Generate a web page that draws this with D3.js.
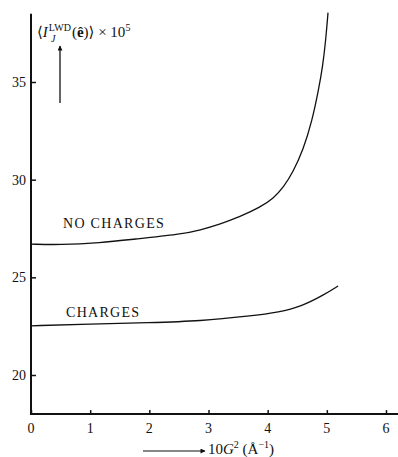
<!DOCTYPE html>
<html>
<head>
<meta charset="utf-8">
<script src="https://cdn.jsdelivr.net/npm/d3@7"></script>
<style>
  body { margin: 0; background: #fff; }
  text { font-family: "Liberation Serif", "DejaVu Serif", serif; fill: #111; }
</style>
</head>
<body>
<script>
// values
const noChargesX = [0, 0.5, 1.17, 1.73, 2.53, 2.86, 3.2, 3.53, 3.87, 4.1, 4.27, 4.43, 4.6, 4.75, 4.86, 4.93, 4.98, 5.02];
const noChargesY = [26.7, 26.66, 26.77, 26.95, 27.2, 27.42, 27.73, 28.1, 28.58, 29.05, 29.62, 30.4, 31.52, 33.0, 34.6, 35.8, 37.1, 38.55];
const chargesX = [0, 1, 2, 2.86, 3.71, 4.2, 4.56, 4.95, 5.19];
const chargesY = [22.52, 22.6, 22.68, 22.76, 23.02, 23.22, 23.5, 24.1, 24.56];
const xTicks = [0, 1, 2, 3, 4, 5, 6];
const yTicks = [20, 25, 30, 35];

const w = 398, h = 457;

const x = d3.scaleLinear().domain([0, 6]).range([31, 386]);
const y = d3.scaleLinear().domain([20, 35]).range([375, 82]);

const svg = d3.select("body").append("svg")
    .attr("width", w)
    .attr("height", h);

// axes lines
const x0 = x(0), yBase = y(18);
svg.append("line")
    .attr("x1", x0).attr("x2", w).attr("y1", yBase).attr("y2", yBase)
    .attr("stroke", "#111").attr("stroke-width", 2);
svg.append("line")
    .attr("x1", x0).attr("x2", x0).attr("y1", y(38.5)).attr("y2", yBase + 1)
    .attr("stroke", "#111").attr("stroke-width", 2);

// x ticks (pointing up)
const xAxis = d3.axisTop(x).tickValues(xTicks).tickSize(4).tickFormat("");
svg.append("g")
    .attr("transform", "translate(0," + yBase + ")")
    .call(xAxis)
    .call(g => g.select(".domain").remove())
    .call(g => g.selectAll("line").attr("stroke", "#111").attr("stroke-width", 1.5));
svg.append("g").selectAll("text")
    .data(xTicks).enter().append("text")
    .attr("x", d => x(d)).attr("y", yBase + 19)
    .attr("text-anchor", "middle")
    .attr("font-size", 14)
    .text(d => d);

// y ticks (pointing right)
const yAxis = d3.axisRight(y).tickValues(yTicks).tickSize(5).tickFormat("");
svg.append("g")
    .attr("transform", "translate(" + x0 + ",0)")
    .call(yAxis)
    .call(g => g.select(".domain").remove())
    .call(g => g.selectAll("line").attr("stroke", "#111").attr("stroke-width", 1.5));
svg.append("g").selectAll("text")
    .data(yTicks).enter().append("text")
    .attr("x", 26).attr("y", d => y(d) + 5)
    .attr("text-anchor", "end")
    .attr("font-size", 14)
    .text(d => d);

// curves
const line = d3.line().x(d => x(d[0])).y(d => y(d[1])).curve(d3.curveBasis);
svg.append("path")
    .datum(d3.zip(noChargesX, noChargesY))
    .attr("d", line)
    .attr("fill", "none").attr("stroke", "#111").attr("stroke-width", 1.3);
svg.append("path")
    .datum(d3.zip(chargesX, chargesY))
    .attr("d", line)
    .attr("fill", "none").attr("stroke", "#111").attr("stroke-width", 1.3);

svg.append("text").attr("x", 63).attr("y", 228).attr("font-size", 14)
    .attr("letter-spacing", 1.3).text("NO CHARGES");
svg.append("text").attr("x", 66).attr("y", 317).attr("font-size", 14)
    .attr("letter-spacing", 1.3).text("CHARGES");

// arrow markers
svg.append("defs").append("marker")
    .attr("id", "head").attr("viewBox", "0 0 10 10")
    .attr("refX", 9).attr("refY", 5)
    .attr("markerWidth", 8).attr("markerHeight", 5)
    .attr("markerUnits", "userSpaceOnUse")
    .attr("orient", "auto")
    .append("path").attr("d", "M0,0 L10,5 L0,10 Z").attr("fill", "#111");

// y label
svg.append("line")
    .attr("x1", 60).attr("x2", 60).attr("y1", 103).attr("y2", 46)
    .attr("stroke", "#111").attr("stroke-width", 1.3)
    .attr("marker-end", "url(#head)");
const yl = svg.append("text").attr("x", 37).attr("y", 37).attr("font-size", 15);
yl.append("tspan").text("\u27E8");
yl.append("tspan").attr("font-style", "italic").text("I");
yl.append("tspan").attr("font-size", 10).attr("dy", -6).attr("dx", 1).text("LWD");
yl.append("tspan").attr("dy", 6).attr("dx", 1).text("(");
yl.append("tspan").attr("font-weight", "bold").text("\u00EA");
yl.append("tspan").text(")\u27E9 \u00D7 10");
yl.append("tspan").attr("font-size", 10).attr("dy", -6).text("5");
svg.append("text").attr("x", 51).attr("y", 42).attr("font-size", 10)
    .attr("font-style", "italic").text("J");

// x label
svg.append("line")
    .attr("x1", 143).attr("x2", 205).attr("y1", 451).attr("y2", 451)
    .attr("stroke", "#111").attr("stroke-width", 1.2)
    .attr("marker-end", "url(#head)");
const xl = svg.append("text").attr("x", 208).attr("y", 454).attr("font-size", 15);
xl.append("tspan").text("10");
xl.append("tspan").attr("font-style", "italic").text("G");
xl.append("tspan").attr("font-size", 10).attr("dy", -6).text("2");
xl.append("tspan").attr("dy", 6).text(" (\u00C5");
xl.append("tspan").attr("font-size", 10).attr("dy", -6).text("\u22121");
xl.append("tspan").attr("dy", 6).text(")");
</script>
</body>
</html>
